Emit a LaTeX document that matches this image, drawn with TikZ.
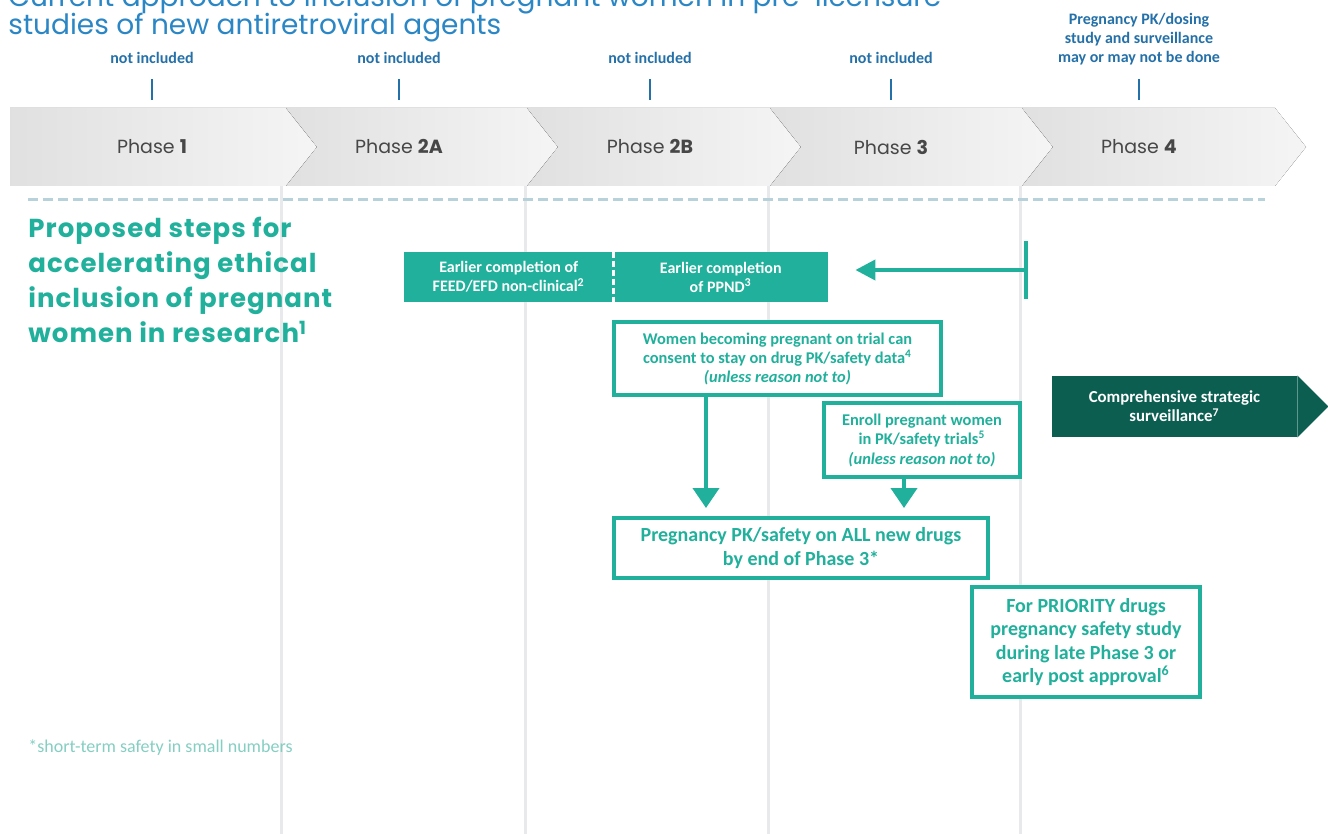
\documentclass[tikz,border=0pt]{standalone}
\usepackage{fontspec}
\setmainfont{Carlito}
\newfontfamily\gothic{Poppins}
\newfontfamily\gothicwide{Poppins}[LetterSpace=4]
\usepackage{tikz}
\usetikzlibrary{arrows.meta,positioning,shapes}
\usepackage{xcolor}
\definecolor{tealc}{HTML}{20B09B}
\definecolor{darksea}{HTML}{0B5E50}
\definecolor{titleblue}{HTML}{2A86C4}
\definecolor{labelblue}{HTML}{2470A8}
\definecolor{guide}{HTML}{E8E9EA}
\definecolor{dashc}{HTML}{B8D2DB}
\definecolor{notec}{HTML}{84CEC2}

\begin{document}
\begin{tikzpicture}[x=0.5pt,y=-0.5pt,
    phase/.style={left color=gray!24, right color=gray!8, draw=none},
    phaselbl/.style={font=\gothic\fontsize{9.5}{11}\selectfont, text=black!72},
    lbl/.style={font=\bfseries\fontsize{8}{9.5}\selectfont, text=labelblue, align=center},
    tick/.style={labelblue, line width=1.2pt},
    fillbox/.style={fill=tealc, text=white, font=\bfseries\fontsize{8}{9.5}\selectfont, align=center, inner sep=0pt, minimum height=25pt},
    outbox/.style={draw=tealc, line width=2pt, fill=white, text=tealc, align=center, inner sep=0pt},
    flow/.style={tealc, line width=2pt, -{Triangle[width=13pt,length=10pt]}}
]

\useasboundingbox (0,0) rectangle (1328,834);

%% Title
\node[anchor=base west, inner sep=0pt, text=titleblue, font=\gothic\fontsize{14}{15}\selectfont] (title) at (8,7) {Current approach to inclusion of pregnant women in pre-licensure};
\node[anchor=base west, inner sep=0pt, text=titleblue, font=\gothic\fontsize{14}{15}\selectfont] (title2) at (8,35) {studies of new antiretroviral agents};

% grey guides
\draw[guide, line width=1.5pt] (281,186) -- (281,834);
\draw[guide, line width=1.5pt] (525,186) -- (525,834);
\draw[guide, line width=1.5pt] (768,186) -- (768,834);
\draw[guide, line width=1.5pt] (1020,186) -- (1020,834);

%% Phases
\fill[phase] (10,108) -- (286,108) -- (317,147) -- (286,186) -- (10,186) -- cycle;
\fill[phase] (286,108) -- (527,108) -- (558,147) -- (527,186) -- (286,186) -- (317,147) -- cycle;
\fill[phase] (527,108) -- (770,108) -- (801,147) -- (770,186) -- (527,186) -- (558,147) -- cycle;
\fill[phase] (770,108) -- (1022,108) -- (1053,147) -- (1022,186) -- (770,186) -- (801,147) -- cycle;
\fill[phase] (1022,108) -- (1275,108) -- (1306,147) -- (1275,186) -- (1022,186) -- (1053,147) -- cycle;

\node[phaselbl] (ph1) at (152,147) {Phase \textbf{1}};
\node[phaselbl] (ph2a) at (399,147) {Phase \textbf{2A}};
\node[phaselbl] (ph2b) at (650,147) {Phase \textbf{2B}};
\node[phaselbl] (ph3) at (891,147) {Phase \textbf{3}};
\node[phaselbl] (ph4) at (1139,147) {Phase \textbf{4}};

% current approach
\node[lbl] (ni1) at (152,58) {not included};
\node[lbl] (ni2) at (399,58) {not included};
\node[lbl] (ni3) at (650,58) {not included};
\node[lbl] (ni4) at (891,58) {not included};
\node[lbl] (ni5) at (1139,39) {Pregnancy PK/dosing\\study and surveillance\\may or may not be done};
\draw[tick] (152,79) -- (152,100);
\draw[tick] (399,79) -- (399,100);
\draw[tick] (650,79) -- (650,100);
\draw[tick] (891,79) -- (891,100);
\draw[tick] (1139,79) -- (1139,100);

\draw[dashc, line width=1.5pt, dash pattern=on 5pt off 2.5pt] (28,200) -- (1265,200);

%% Proposed steps
\node[anchor=north west, align=left, inner sep=0pt, text=tealc, font=\gothicwide\bfseries\fontsize{13}{17.5}\selectfont] (prop) at (28,217) {Proposed steps for\\accelerating ethical\\inclusion of pregnant\\women in research\textsuperscript{1}};

\node[fillbox, minimum width=104.75pt] (feed) at (508.75,277) {Earlier completion of\\FEED/EFD non-clinical\textsuperscript{2}};
\node[fillbox, minimum width=107.25pt] (ppnd) at (720.75,277) {Earlier completion\\of PPND\textsuperscript{3}};
\draw[white, line width=1.5pt, dash pattern=on 3pt off 1.5pt] (feed.north east) -- (feed.south east);

\coordinate (bar) at (1028,270);
\draw[tealc, line width=2pt, {Bar[width=29pt]}-{Triangle[width=10pt,length=10pt]}, shorten >=13.5pt] (bar) -- (bar -| ppnd.east);

\node[outbox, minimum width=163.5pt, minimum height=36.5pt, font=\bfseries\fontsize{8.2}{9.5}\selectfont] (women) at (777.5,358.5) {Women becoming pregnant on trial can\\consent to stay on drug PK/safety data\textsuperscript{4}\\\textit{(unless reason not to)}};
\node[outbox, minimum width=98pt, minimum height=37pt, font=\bfseries\fontsize{8.2}{9.75}\selectfont] (enroll) at (922,440) {Enroll pregnant women\\in PK/safety trials\textsuperscript{5}\\\textit{(unless reason not to)}};
\node[outbox, minimum width=187pt, minimum height=30pt, font=\bfseries\fontsize{10}{12}\selectfont] (pkall) at (801,548) {Pregnancy PK/safety on ALL new drugs\\by end of Phase 3*};
\node[outbox, minimum width=114pt, minimum height=55pt, font=\bfseries\fontsize{10}{11.8}\selectfont] (priority) at (1086,642) {For PRIORITY drugs\\pregnancy safety study\\during late Phase 3 or\\early post approval\textsuperscript{6}};

\coordinate (wx) at (706,0);
\coordinate (ex) at (904,0);
\draw[flow, shorten >=4pt] (women.south -| wx) -- (pkall.north -| wx);
\draw[flow, shorten >=4pt] (enroll.south -| ex) -- (pkall.north -| ex);

\node[fill=darksea, text=white, align=center, inner sep=0pt, minimum width=122.5pt, minimum height=30.5pt, font=\bfseries\fontsize{8.4}{9.5}\selectfont] (surv) at (1174.5,406.5) {Comprehensive strategic\\surveillance\textsuperscript{7}};
\fill[darksea] (surv.north east) -- ([xshift=15.5pt]surv.east) -- (surv.south east) -- cycle;

\node[anchor=base west, inner sep=0pt, text=notec, font=\fontsize{9}{10}\selectfont] (note) at (28,752) {*short-term safety in small numbers};

\end{tikzpicture}
\end{document}
